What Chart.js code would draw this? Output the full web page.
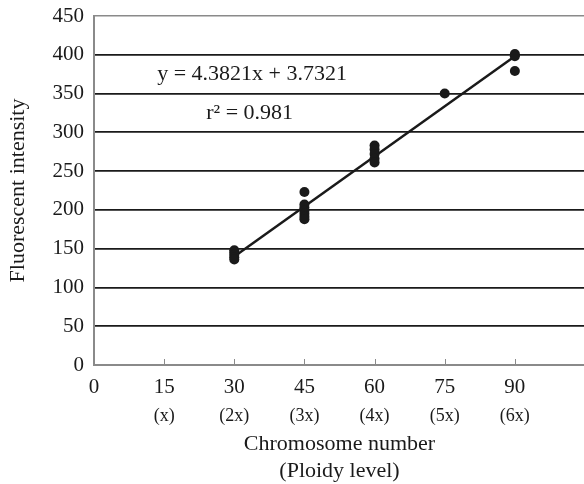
<!DOCTYPE html>
<html>
<head>
<meta charset="utf-8">
<script src="https://cdn.jsdelivr.net/npm/chart.js@4"></script>
<style>
  body { margin: 0; background: #fff; }
  #wrap { width: 584px; height: 484px; overflow: hidden; }
</style>
</head>
<body>
<div id="wrap"><canvas id="fluoChart" width="590" height="484"></canvas></div>
<script>
const chromosomes = [30, 30, 30, 30, 30, 45, 45, 45, 45, 45, 45, 45, 60, 60, 60, 60, 60, 75, 90, 90, 90];
const intensity = [148, 145, 142, 139, 136, 223, 207, 203, 199, 195, 191, 188, 283, 278, 272, 266, 261, 350, 401, 398, 379];

// линия регрессии
const trendX = [30, 90];
const trendY = [140, 398];

const xTicks = [0, 15, 30, 45, 60, 75, 90];
const ploidyLabels = ['', '(x)', '(2x)', '(3x)', '(4x)', '(5x)', '(6x)'];
const yTicks = [0, 50, 100, 150, 200, 250, 300, 350, 400, 450];

const equationText = 'y = 4.3821x + 3.7321';
const rSquaredText = 'r² = 0.981';

const serif = "'Liberation Serif', 'Times New Roman', serif";
const ink = '#1a1a1a';
const axisGray = '#8a8a8a';

const points = chromosomes.map((c, i) => ({ x: c, y: intensity[i] }));
const trend = trendX.map((x, i) => ({ x: x, y: trendY[i] }));

const fixedTicks = list => scale => { scale.ticks = list.map(v => ({ value: v })); };

// короткие риски внутрь графика и подписи уравнения
const extras = {
  id: 'extras',
  afterDraw(chart) {
    const { ctx, scales: { x, y } } = chart;
    ctx.save();
    ctx.strokeStyle = axisGray;
    ctx.lineWidth = 1;
    xTicks.slice(1).forEach(v => {
      const px = Math.round(x.getPixelForValue(v)) + 0.5;
      ctx.beginPath();
      ctx.moveTo(px, y.bottom);
      ctx.lineTo(px, y.bottom - 6);
      ctx.stroke();
    });
    ctx.fillStyle = ink;
    ctx.font = '22px ' + serif;
    ctx.textBaseline = 'middle';
    ctx.fillText(equationText, x.getPixelForValue(13.5), y.getPixelForValue(375));
    ctx.fillText(rSquaredText, x.getPixelForValue(24), y.getPixelForValue(325));
    ctx.restore();
  }
};

new Chart(document.getElementById('fluoChart'), {
  data: {
    datasets: [{
      type: 'scatter',
      data: points,
      backgroundColor: ink,
      borderWidth: 0,
      pointRadius: 5,
      pointHoverRadius: 5
    }, {
      type: 'line',
      data: trend,
      borderColor: ink,
      borderWidth: 2.5,
      pointRadius: 0,
      fill: false
    }]
  },
  options: {
    responsive: false,
    animation: false,
    layout: { padding: { top: 16, right: 0, left: 0, bottom: 0 } },
    plugins: { legend: { display: false }, tooltip: { enabled: false } },
    scales: {
      x: {
        type: 'linear',
        position: 'bottom',
        min: 0,
        max: 105,
        afterBuildTicks: fixedTicks(xTicks),
        afterFit: s => { s.height = 35; s.paddingLeft = 0; s.paddingRight = 0; },
        grid: { drawOnChartArea: false, drawTicks: false },
        border: { color: axisGray, width: 2 },
        ticks: { color: ink, padding: 10, font: { family: serif, size: 21 } }
      },
      x2: {
        type: 'linear',
        position: 'bottom',
        min: 0,
        max: 105,
        afterBuildTicks: fixedTicks(xTicks),
        afterFit: s => { s.height = 84; s.paddingLeft = 0; s.paddingRight = 0; },
        grid: { display: false, drawTicks: false },
        border: { display: false },
        ticks: {
          color: ink,
          padding: 5,
          font: { family: serif, size: 18 },
          callback: v => ploidyLabels[xTicks.indexOf(v)]
        },
        title: {
          display: true,
          text: ['Chromosome number', '(Ploidy level)'],
          color: ink,
          padding: { top: 0, bottom: 0 },
          font: { family: serif, size: 22, lineHeight: 1.2 }
        }
      },
      y: {
        min: 0,
        max: 450,
        afterBuildTicks: fixedTicks(yTicks),
        afterFit: s => { s.width = 94; s.paddingTop = 0; s.paddingBottom = 0; },
        grid: {
          drawTicks: false,
          color: ctx => ctx.tick && ctx.tick.value === 450 ? axisGray : ink,
          lineWidth: ctx => ctx.tick && ctx.tick.value === 450 ? 1.5 : 1.8
        },
        border: { color: axisGray, width: 2 },
        ticks: { color: ink, padding: 10, font: { family: serif, size: 21 } },
        title: {
          display: true,
          text: 'Fluorescent intensity',
          color: ink,
          padding: { top: 5, bottom: 0 },
          font: { family: serif, size: 22 }
        }
      }
    }
  },
  plugins: [extras]
});
</script>
</body>
</html>
